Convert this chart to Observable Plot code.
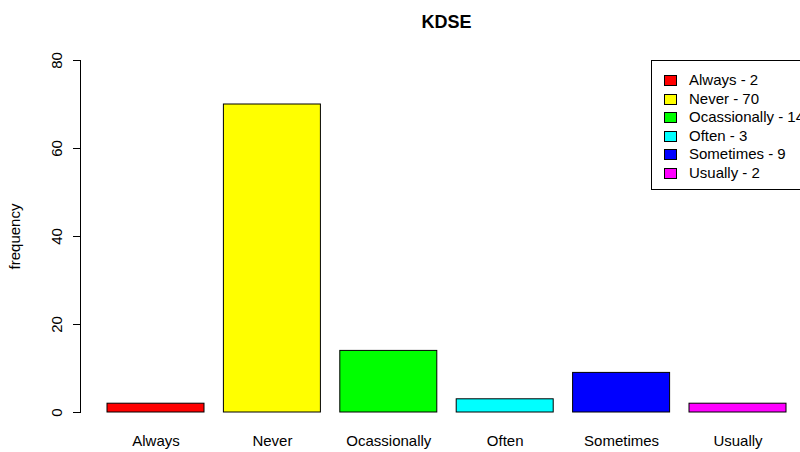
<!DOCTYPE html>
<html>
<head>
<meta charset="utf-8">
<script src="https://cdn.jsdelivr.net/npm/d3@7"></script>
<script src="https://cdn.jsdelivr.net/npm/@observablehq/plot@0.6"></script>
<style>
  html, body { margin: 0; padding: 0; background: #fff; }
  body { width: 800px; height: 452px; overflow: hidden; position: relative;
         font-family: "Liberation Sans", Arial, sans-serif; }
  #title { height: 40px; margin-left: 80px; width: 733px; text-align: center;
           font-weight: bold; font-size: 18px; line-height: 44px; color: #000; }
  #legend { position: absolute; left: 651px; top: 60px; width: 170px; height: 130px;
            border: 1px solid #000; background: #fff; box-sizing: border-box;
            padding-top: 10px; }
  .row { position: relative; height: 18.6px; line-height: 18.6px; font-size: 15px; white-space: nowrap; color: #000; }
  .sw { position: absolute; left: 12px; top: 4px; width: 11px; height: 9px; border: 1px solid #000; }
  .lab { position: absolute; left: 37px; top: 0; }
</style>
</head>
<body>
<div id="title">KDSE</div>
<div id="chart"></div>
<div id="legend"></div>
<script>
const categories = ["Always", "Never", "Ocassionally", "Often", "Sometimes", "Usually"];
const values = [2, 70, 14, 3, 9, 2];
const colors = ["#ff0000", "#ffff00", "#00ff00", "#00ffff", "#0000ff", "#ff00ff"];
const yTicks = [0, 20, 40, 60, 80];

const data = categories.map((c, i) => ({cat: c, value: values[i], color: colors[i]}));

const chart = Plot.plot({
  width: 800,
  height: 412,
  marginLeft: 80,
  marginRight: 0,
  marginTop: 20,
  marginBottom: 40,
  style: {fontSize: "15px", fontFamily: "'Liberation Sans', Arial, sans-serif", color: "#000", background: "transparent"},
  x: {domain: categories, range: [107, 786], paddingInner: 0.2 / 1.2, paddingOuter: 0, round: false},
  y: {domain: [0, 80]},
  color: {type: "identity"},
  marks: [
    Plot.frame({anchor: "left", stroke: "#000"}),
    Plot.barY(data, {x: "cat", y: "value", fill: "color", stroke: "#000", strokeWidth: 1}),
    Plot.axisY({ticks: yTicks, tickSize: 7, tickPadding: 12, tickRotate: -90, textAnchor: "middle", lineAnchor: "bottom", label: null, stroke: "#000"}),
    Plot.axisX({tickSize: 0, tickPadding: 23, label: null}),
    Plot.text(["frequency"], {frameAnchor: "left", dx: -65, rotate: -90, textAnchor: "middle", lineAnchor: "middle", fontSize: 15})
  ]
});
document.getElementById("chart").appendChild(chart);

const legend = document.getElementById("legend");
data.forEach(d => {
  const row = document.createElement("div");
  row.className = "row";
  row.innerHTML = `<span class="sw" style="background:${d.color}"></span><span class="lab">${d.cat} - ${d.value}</span>`;
  legend.appendChild(row);
});
</script>
</body>
</html>
